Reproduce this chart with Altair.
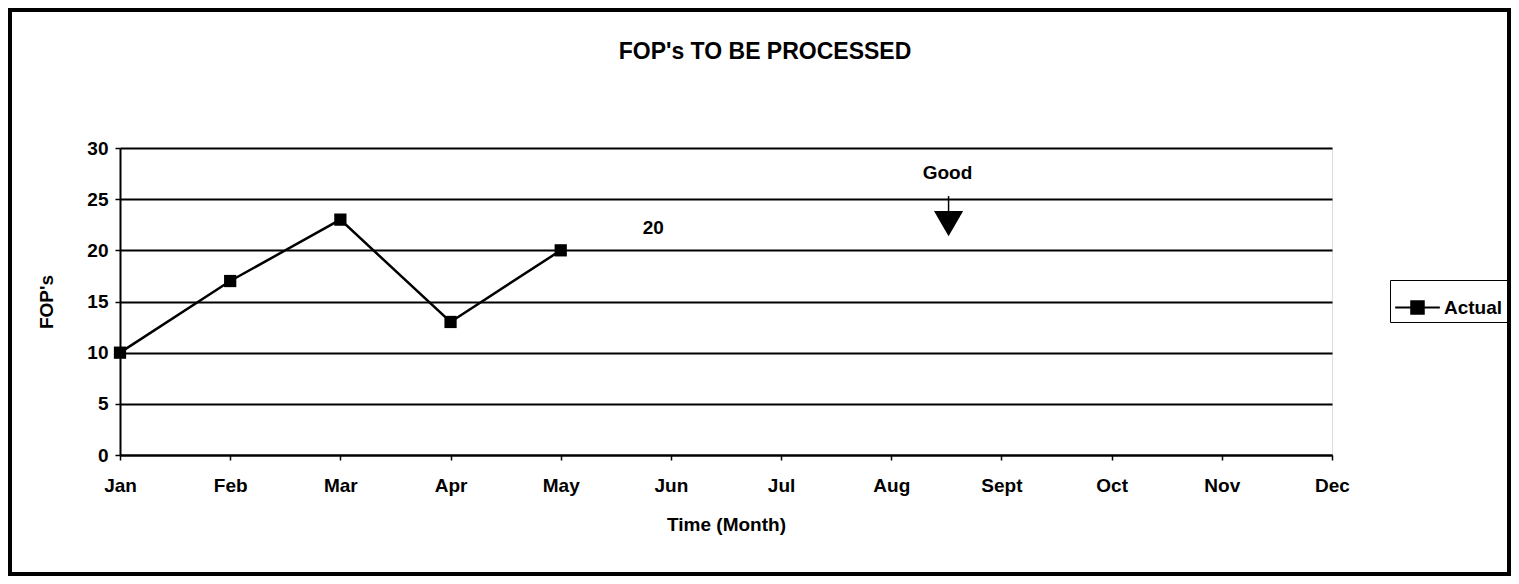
import altair as alt
import pandas as pd

months = ["Jan", "Feb", "Mar", "Apr", "May", "Jun", "Jul", "Aug", "Sept", "Oct", "Nov", "Dec"]
actual_month_idx = [0, 1, 2, 3, 4]
actual_values = [10, 17, 23, 13, 20]

ann_text = ["20", "Good"]
ann_x = [4.84, 7.51]
ann_y = [22.2, 27.6]

arrow_x = [7.52]
arrow_y = [22.6]
stem_top = [25.3]
stem_bottom = [23.8]

title_text = "FOP's TO BE PROCESSED"

FONT = "Liberation Sans"
FS = 19

df = pd.DataFrame({"m": actual_month_idx, "v": actual_values, "s": ["Actual"] * 5})
ann = pd.DataFrame({"t": ann_text, "x": ann_x, "y": ann_y})
arr = pd.DataFrame({"x": arrow_x, "y": arrow_y, "y1": stem_top, "y2": stem_bottom})

label_expr = "[" + ",".join(f"'{m}'" for m in months) + "][datum.value]"

xs = alt.Scale(domain=[0, 11], nice=False, zero=False)
ys = alt.Scale(domain=[0, 30], nice=False)

x_axis = alt.Axis(values=list(range(12)), labelExpr=label_expr, grid=False, title="Time (Month)",
                  labelFlush=False,
                  tickSize=5, tickColor="black", tickWidth=1.5, domainColor="black", domainWidth=2,
                  labelPadding=16, titlePadding=20, labelFont=FONT, labelFontSize=FS, labelFontWeight="bold",
                  titleFont=FONT, titleFontSize=FS, titleFontWeight="bold", labelColor="black", titleColor="black")
y_axis = alt.Axis(values=[0, 5, 10, 15, 20, 25, 30], grid=True, gridColor="black", gridWidth=2, gridOpacity=1,
                  title="FOP's", tickSize=5, tickColor="black", tickWidth=1.5, domainColor="black", domainWidth=2,
                  labelPadding=7, titlePadding=30, labelFont=FONT, labelFontSize=FS, labelFontWeight="bold",
                  titleFont=FONT, titleFontSize=FS, titleFontWeight="bold", labelColor="black", titleColor="black")

base = alt.Chart(df)

frame = alt.Chart(pd.DataFrame({"a": [0]})).mark_rect(fill=None, stroke="black", strokeWidth=4).encode(
    x=alt.value(-110), x2=alt.value(1389), y=alt.value(-138), y2=alt.value(426)
)

title = alt.Chart(pd.DataFrame({"t": [title_text]})).mark_text(
    font=FONT, fontSize=23, fontWeight="bold", color="black", baseline="middle", align="center"
).encode(x=alt.value(645), y=alt.value(-96), text="t:N")

line = base.mark_line(color="black", strokeWidth=2.5).encode(
    x=alt.X("m:Q", scale=xs, axis=x_axis),
    y=alt.Y("v:Q", scale=ys, axis=y_axis),
)

pts = base.mark_point(shape="square", filled=True, size=150, opacity=1).encode(
    x=alt.X("m:Q", scale=xs),
    y=alt.Y("v:Q", scale=ys),
    color=alt.Color("s:N", scale=alt.Scale(domain=["Actual"], range=["black"]),
                    legend=alt.Legend(title=None, orient="none", legendX=1270, legendY=132,
                                      symbolType="M-1,0H1M-0.28,-0.28H0.28V0.28H-0.28Z",
                                      symbolSize=2000, symbolStrokeColor="black", symbolStrokeWidth=2,
                                      symbolFillColor="black", labelFont=FONT, labelFontSize=FS,
                                      labelFontWeight="bold", labelColor="black", strokeColor="black",
                                      padding=4, labelOffset=3)),
)

texts = alt.Chart(ann).mark_text(font=FONT, fontSize=FS, fontWeight="bold", color="black").encode(
    x=alt.X("x:Q", scale=xs), y=alt.Y("y:Q", scale=ys), text="t:N"
)

stem = alt.Chart(arr).mark_rule(color="black", strokeWidth=1.5).encode(
    x=alt.X("x:Q", scale=xs), y=alt.Y("y1:Q", scale=ys), y2="y2:Q"
)
tri = alt.Chart(arr).mark_point(shape="triangle-down", filled=True, size=850, color="black", opacity=1).encode(
    x=alt.X("x:Q", scale=xs), y=alt.Y("y:Q", scale=ys)
)

chart = alt.layer(frame, title, line, pts, texts, stem, tri).properties(
    width=1212, height=307,
    autosize=alt.AutoSizeParams(type="none"),
    padding={"left": 112, "top": 140, "right": 179, "bottom": 121},
).configure_view(stroke="black", strokeWidth=2).configure(background="white")

chart.save("out.html", embed_options={"renderer": "svg", "actions": False})
